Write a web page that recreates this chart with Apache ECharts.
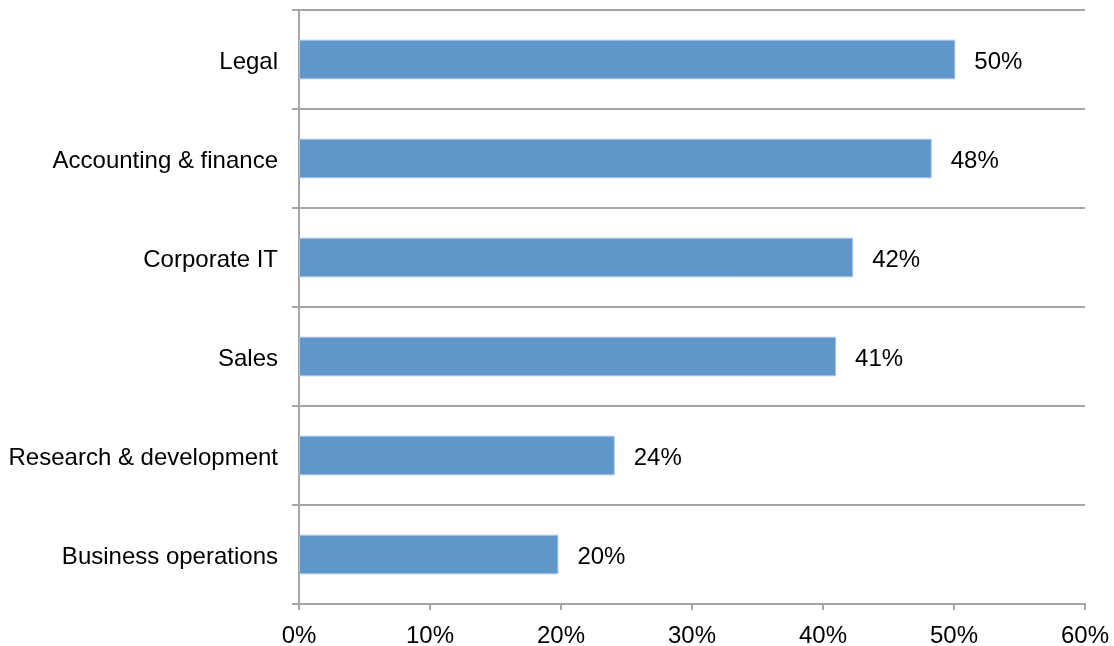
<!DOCTYPE html>
<html>
<head>
<meta charset="utf-8">
<script src="https://cdn.jsdelivr.net/npm/echarts@6/dist/echarts.min.js"></script>
<style>
  html, body { margin: 0; padding: 0; background: #fff; }
  #chart { width: 1114px; height: 646px; }
</style>
</head>
<body>
<div id="chart"></div>
<script>
// categories top to bottom
var categories = ['Legal', 'Accounting & finance', 'Corporate IT', 'Sales', 'Research & development', 'Business operations'];
var shares = [50.1, 48.3, 42.3, 41.0, 24.1, 19.8];
var xTicks = [0, 10, 20, 30, 40, 50, 60];

var fontFamily = 'Liberation Sans, Arial, sans-serif';
var lineColor = '#a6a6a6';

var chart = echarts.init(document.getElementById('chart'));
chart.setOption({
    animation: false,
    grid: {
        left: 299,
        right: 29,
        top: 10,
        bottom: 42,
        containLabel: false,
        outerBoundsMode: 'none'
    },
    xAxis: {
        type: 'value',
        min: xTicks[0],
        max: xTicks[xTicks.length - 1],
        interval: 10,
        splitLine: { show: false },
        axisLine: { show: true, lineStyle: { color: lineColor, width: 2 } },
        axisTick: { show: true, length: 6, lineStyle: { color: lineColor, width: 2 } },
        axisLabel: {
            margin: 20,
            formatter: '{value}%',
            color: '#000',
            fontSize: 24,
            fontFamily: fontFamily
        }
    },
    yAxis: {
        type: 'category',
        inverse: true,
        data: categories,
        axisLine: { show: true, lineStyle: { color: lineColor, width: 2 } },
        axisTick: { show: true, length: 7, lineStyle: { color: lineColor, width: 2 } },
        splitLine: { show: true, lineStyle: { color: lineColor, width: 2 } },
        axisLabel: {
            margin: 21,
            formatter: function (v) {
                return '{a|' + v + '}';
            },
            rich: {
                a: {
                    color: '#000',
                    fontSize: 24,
                    fontFamily: fontFamily,
                    padding: [6, 0, 0, 0]
                }
            }
        }
    },
    series: [
        {
            type: 'bar',
            data: shares,
            barWidth: '40%',
            itemStyle: {
                color: '#6096c9',
                borderColor: '#a9c5e3',
                borderWidth: 1
            },
            label: {
                show: true,
                position: 'right',
                distance: 19,
                offset: [0, 3],
                color: '#000',
                fontSize: 24,
                fontFamily: fontFamily,
                formatter: function (p) {
                    return Math.round(p.value) + '%';
                }
            }
        }
    ]
});
</script>
</body>
</html>
